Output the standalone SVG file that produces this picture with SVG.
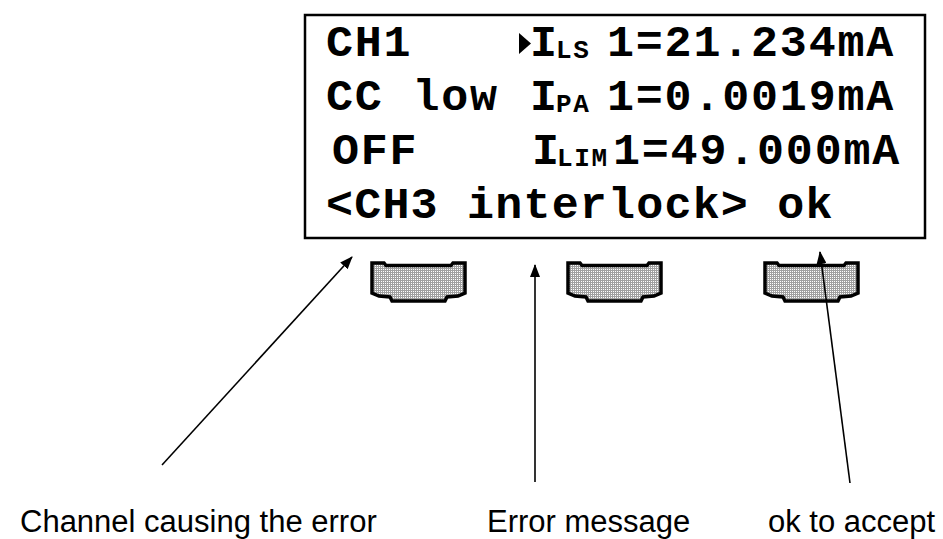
<svg xmlns="http://www.w3.org/2000/svg" width="943" height="539" viewBox="0 0 943 539">
  <style>
    .lcd { font-family: "Liberation Mono", "Courier New", monospace; font-weight: bold; font-size: 45px; letter-spacing: 1.8px; fill: #000; }
    .last { letter-spacing: 1.2px; }
    .sub { font-family: "Liberation Mono", "Courier New", monospace; font-weight: bold; font-size: 26px; letter-spacing: 1.6px; fill: #000; }
    .label { font-family: "Liberation Sans", Arial, sans-serif; font-size: 31px; fill: #000; }
    .key { fill: url(#dots); stroke: #000; stroke-width: 3.5; stroke-linejoin: miter; }
    .lead { stroke: #000; stroke-width: 1.6; fill: none; marker-end: url(#head); }
  </style>
  <defs>
    <pattern id="dots" width="2" height="2" patternUnits="userSpaceOnUse">
      <rect width="2" height="2" fill="#ffffff"/>
      <rect width="2" height="1" fill="#a0a0a0"/>
      <rect width="1" height="2" fill="#a0a0a0"/>
    </pattern>
    <marker id="head" markerWidth="13" markerHeight="10" refX="12" refY="5" orient="auto" markerUnits="userSpaceOnUse">
      <path d="M0,0 L13,5 L0,10 Z" fill="#000"/>
    </marker>
    <!-- soft-key outline: raised ears at the top corners, bulge under the middle -->
    <path id="keyShape" d="M0,1 H12 L14,3.5 H79 L81,1 H93 V31 L86,34 L75,35 L73,39 H20 L18,35 L7,34 L0,31 Z"/>
  </defs>

  <!-- display panel -->
  <g id="display">
    <rect x="305" y="15" width="620" height="223" fill="#fff" stroke="#000" stroke-width="2.5"/>
    <text class="lcd" x="326" y="56">CH1</text>
    <polygon points="519,33 531,43.5 519,54" fill="#000"/>
    <text class="lcd" x="530" y="56">I</text>
    <text class="sub" x="556" y="58">LS</text>
    <text class="lcd" x="607" y="56">1=21.234mA</text>

    <text class="lcd" x="326" y="110">CC low</text>
    <text class="lcd" x="530" y="110">I</text>
    <text class="sub" x="556" y="112">PA</text>
    <text class="lcd" x="607" y="110">1=0.0019mA</text>

    <text class="lcd" x="332" y="164">OFF</text>
    <text class="lcd" x="532" y="164">I</text>
    <text class="sub" x="557" y="166">LIM</text>
    <text class="lcd" x="613" y="164">1=49.000mA</text>

    <text class="lcd last" x="326" y="218">&lt;CH3 interlock&gt; ok</text>
  </g>

  <!-- soft keys -->
  <g id="key-left"><use href="#keyShape" class="key" x="372" y="262"/></g>
  <g id="key-middle"><use href="#keyShape" class="key" x="568" y="262"/></g>
  <g id="key-right"><use href="#keyShape" class="key" x="765" y="262"/></g>

  <!-- leader arrows -->
  <g id="connectors">
    <line class="lead" x1="162" y1="465" x2="352" y2="257"/>
    <line class="lead" x1="535" y1="482" x2="535" y2="265"/>
    <line class="lead" x1="850" y1="483" x2="820" y2="252"/>
  </g>

  <!-- captions -->
  <g id="captions">
    <text class="label" x="20" y="532">Channel causing the error</text>
    <text class="label" x="487" y="532">Error message</text>
    <text class="label" x="768" y="532">ok to accept</text>
  </g>
</svg>
